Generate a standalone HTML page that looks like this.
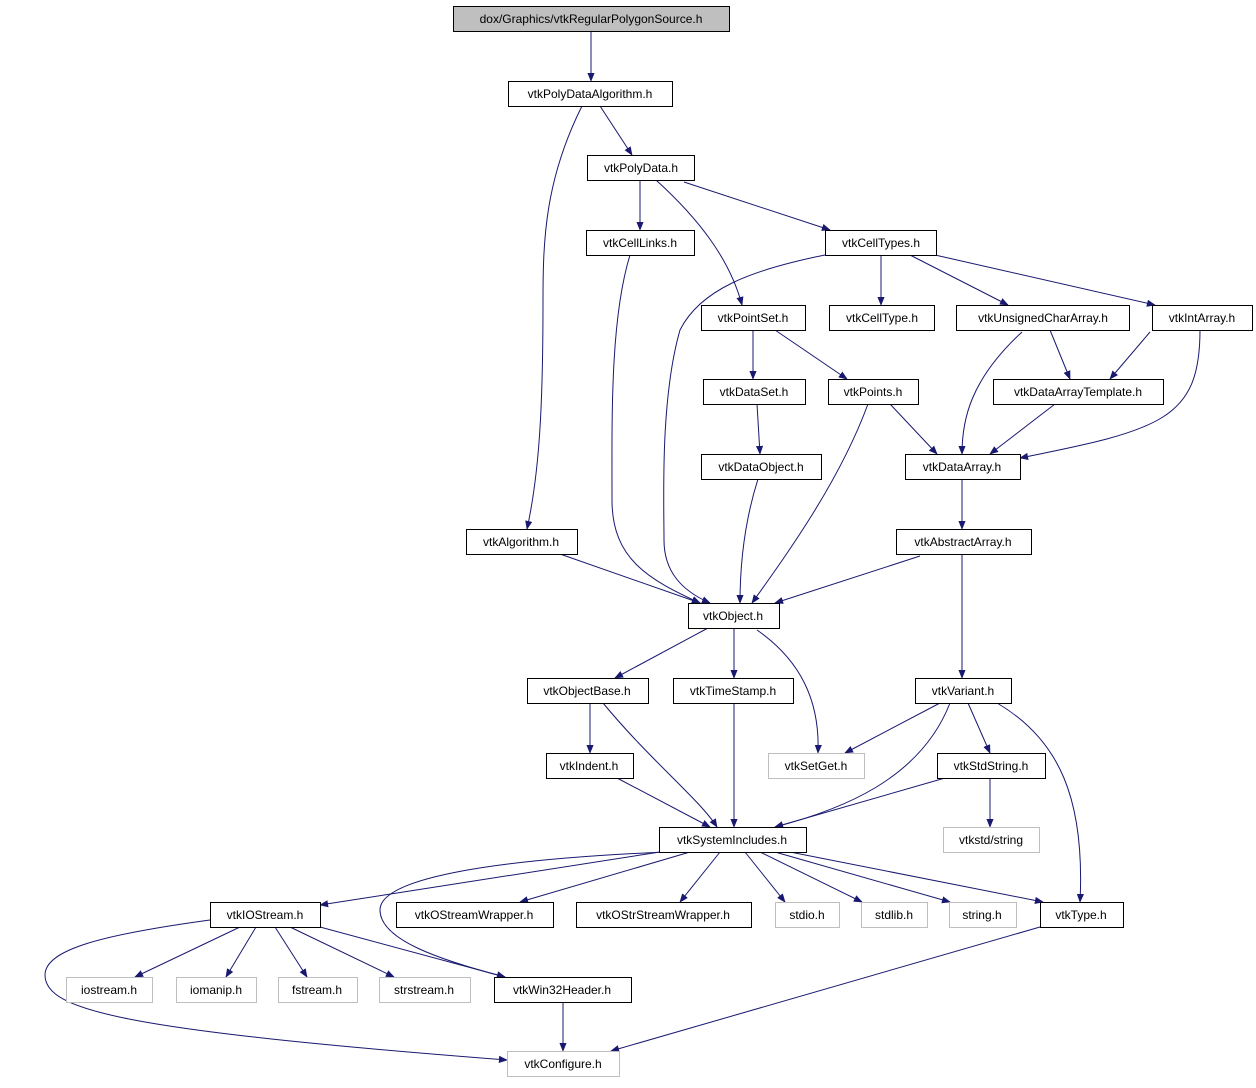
<!DOCTYPE html>
<html><head><meta charset="utf-8"><style>
body{margin:0;background:#fff;}
svg text{font-family:"Liberation Sans",sans-serif;font-size:12px;fill:#000;}
</style></head><body>
<svg width="1256" height="1083" viewBox="0 0 1256 1083" xmlns="http://www.w3.org/2000/svg">
<defs><marker id="a" viewBox="0 0 10 10" refX="9" refY="5" markerWidth="9" markerHeight="9" markerUnits="userSpaceOnUse" orient="auto"><path d="M0,1 L10,5 L0,9 z" fill="#191970"/></marker></defs>
<g fill="none" stroke="#191970" stroke-width="1" marker-end="url(#a)">
<path d="M591,31 L591,81"/>
<path d="M600,106 L632,155"/>
<path d="M582,106 C545,180 543,240 543,300 C543,400 540,470 527,529"/>
<path d="M640,180 L640,230"/>
<path d="M684,182 L830,230"/>
<path d="M656,180 C700,220 730,260 742,305"/>
<path d="M630,255 C610,320 612,420 612,500 C612,560 650,580 700,603"/>
<path d="M825,255 C750,270 700,290 680,330 C660,400 664,500 664,540 C664,570 680,590 710,603"/>
<path d="M881,255 L881,305"/>
<path d="M910,255 L1008,305"/>
<path d="M935,255 L1155,305"/>
<path d="M753,330 L753,379"/>
<path d="M775,330 L847,379"/>
<path d="M757,404 L760,454"/>
<path d="M868,404 C840,480 790,550 752,603"/>
<path d="M890,404 L937,454"/>
<path d="M1050,330 L1070,379"/>
<path d="M1150,332 L1110,379"/>
<path d="M1022,332 C970,380 962,420 962,454"/>
<path d="M1055,404 L990,454"/>
<path d="M1200,330 C1200,420 1160,430 1020,458"/>
<path d="M758,479 C745,520 740,560 740,603"/>
<path d="M962,479 L962,529"/>
<path d="M560,554 L700,603"/>
<path d="M920,556 L775,603"/>
<path d="M962,554 L962,678"/>
<path d="M708,628 L615,678"/>
<path d="M734,628 L734,678"/>
<path d="M757,630 C800,660 820,700 818,753"/>
<path d="M590,703 L590,753"/>
<path d="M603,703 C650,760 700,800 717,827"/>
<path d="M734,703 L734,827"/>
<path d="M940,703 L845,753"/>
<path d="M968,703 L990,753"/>
<path d="M950,703 C920,780 840,810 775,827"/>
<path d="M997,703 C1060,740 1085,800 1080,902"/>
<path d="M990,778 L990,827"/>
<path d="M945,778 L775,827"/>
<path d="M617,778 L710,827"/>
<path d="M660,852 L320,905"/>
<path d="M665,852 C480,860 380,880 380,910 C380,940 440,960 505,977"/>
<path d="M690,852 L520,902"/>
<path d="M720,852 L680,902"/>
<path d="M745,852 L785,902"/>
<path d="M760,852 L862,902"/>
<path d="M775,852 L950,902"/>
<path d="M790,852 L1043,902"/>
<path d="M210,920 C100,935 45,950 45,975 C45,1010 120,1030 507,1060"/>
<path d="M240,927 L135,977"/>
<path d="M256,927 L226,977"/>
<path d="M275,927 L307,977"/>
<path d="M290,927 L394,977"/>
<path d="M320,927 L505,977"/>
<path d="M563,1002 L563,1051"/>
<path d="M1040,927 L611,1051"/>
</g>
<g stroke-width="1">
<rect x="453.5" y="6.5" width="276" height="25" fill="#bfbfbf" stroke="#000"/>
<g fill="#fff" stroke="#000">
<rect x="508.5" y="81.5" width="164" height="25"/>
<rect x="587.5" y="155.5" width="107" height="25"/>
<rect x="586.5" y="230.5" width="108" height="25"/>
<rect x="825.5" y="230.5" width="111" height="25"/>
<rect x="701.5" y="305.5" width="104" height="25"/>
<rect x="829.5" y="305.5" width="105" height="25"/>
<rect x="956.5" y="305.5" width="173" height="25"/>
<rect x="1152.5" y="305.5" width="100" height="25"/>
<rect x="703.5" y="379.5" width="102" height="25"/>
<rect x="828.5" y="379.5" width="90" height="25"/>
<rect x="993.5" y="379.5" width="170" height="25"/>
<rect x="701.5" y="454.5" width="120" height="25"/>
<rect x="905.5" y="454.5" width="115" height="25"/>
<rect x="466.5" y="529.5" width="111" height="25"/>
<rect x="896.5" y="529.5" width="135" height="25"/>
<rect x="688.5" y="603.5" width="91" height="25"/>
<rect x="527.5" y="678.5" width="121" height="25"/>
<rect x="673.5" y="678.5" width="120" height="25"/>
<rect x="915.5" y="678.5" width="96" height="25"/>
<rect x="546.5" y="753.5" width="87" height="25"/>
<rect x="937.5" y="753.5" width="108" height="25"/>
<rect x="659.5" y="827.5" width="147" height="25"/>
<rect x="210.5" y="902.5" width="110" height="25"/>
<rect x="396.5" y="902.5" width="157" height="25"/>
<rect x="576.5" y="902.5" width="175" height="25"/>
<rect x="1040.5" y="902.5" width="83" height="25"/>
<rect x="494.5" y="977.5" width="137" height="25"/>
</g>
<g fill="#fff" stroke="#bfbfbf">
<rect x="768.5" y="753.5" width="96" height="25"/>
<rect x="943.5" y="827.5" width="96" height="25"/>
<rect x="775.5" y="902.5" width="64" height="25"/>
<rect x="861.5" y="902.5" width="66" height="25"/>
<rect x="949.5" y="902.5" width="67" height="25"/>
<rect x="66.5" y="977.5" width="86" height="25"/>
<rect x="176.5" y="977.5" width="80" height="25"/>
<rect x="278.5" y="977.5" width="79" height="25"/>
<rect x="379.5" y="977.5" width="91" height="25"/>
<rect x="507.5" y="1051.5" width="112" height="25"/>
</g>
</g>
<g text-anchor="middle">
<text x="591" y="23">dox/Graphics/vtkRegularPolygonSource.h</text>
<text x="590" y="98">vtkPolyDataAlgorithm.h</text>
<text x="641" y="172">vtkPolyData.h</text>
<text x="640" y="247">vtkCellLinks.h</text>
<text x="881" y="247">vtkCellTypes.h</text>
<text x="753" y="322">vtkPointSet.h</text>
<text x="882" y="322">vtkCellType.h</text>
<text x="1043" y="322">vtkUnsignedCharArray.h</text>
<text x="1202" y="322">vtkIntArray.h</text>
<text x="754" y="396">vtkDataSet.h</text>
<text x="873" y="396">vtkPoints.h</text>
<text x="1078" y="396">vtkDataArrayTemplate.h</text>
<text x="761" y="471">vtkDataObject.h</text>
<text x="962" y="471">vtkDataArray.h</text>
<text x="521" y="546">vtkAlgorithm.h</text>
<text x="963" y="546">vtkAbstractArray.h</text>
<text x="733" y="620">vtkObject.h</text>
<text x="587" y="695">vtkObjectBase.h</text>
<text x="733" y="695">vtkTimeStamp.h</text>
<text x="963" y="695">vtkVariant.h</text>
<text x="589" y="770">vtkIndent.h</text>
<text x="816" y="770" fill="#333">vtkSetGet.h</text>
<text x="991" y="770">vtkStdString.h</text>
<text x="732" y="844">vtkSystemIncludes.h</text>
<text x="991" y="844" fill="#333">vtkstd/string</text>
<text x="265" y="919">vtkIOStream.h</text>
<text x="474" y="919">vtkOStreamWrapper.h</text>
<text x="663" y="919">vtkOStrStreamWrapper.h</text>
<text x="807" y="919">stdio.h</text>
<text x="894" y="919">stdlib.h</text>
<text x="982" y="919">string.h</text>
<text x="1081" y="919">vtkType.h</text>
<text x="109" y="994">iostream.h</text>
<text x="216" y="994">iomanip.h</text>
<text x="317" y="994">fstream.h</text>
<text x="424" y="994">strstream.h</text>
<text x="562" y="994">vtkWin32Header.h</text>
<text x="563" y="1068">vtkConfigure.h</text>
</g>
</svg>
</body></html>
